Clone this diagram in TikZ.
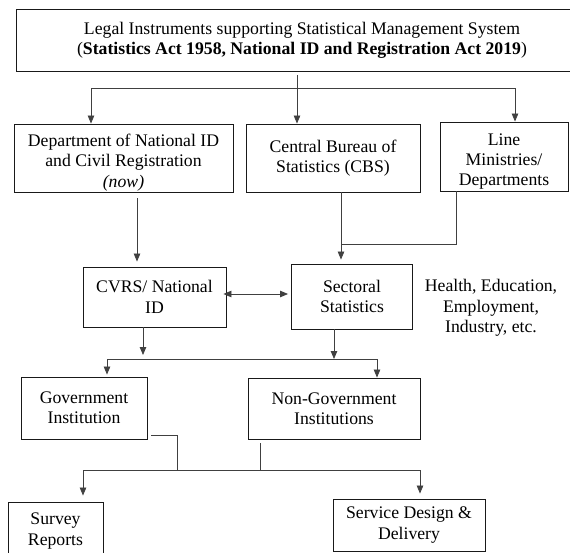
\documentclass[tikz,border=0pt]{standalone}
\usepackage{fontspec}
\setmainfont{Liberation Serif}
\usetikzlibrary{arrows.meta,positioning,calc}

\begin{document}
\begin{tikzpicture}[x=1pt,y=-1pt,
  box/.style={draw=black!90,line width=0.9pt,align=center,inner sep=0pt},
  low/.style={text height=62pt},
  link/.style={draw=black!75,line width=0.8pt},
  arr/.style={link,-{Triangle[length=8pt,width=6.5pt]}},
  arrs/.style={link,{Triangle[length=8pt,width=6.5pt]}-{Triangle[length=8pt,width=6.5pt]}},
  font=\fontsize{17.7}{20.3}\selectfont]
\useasboundingbox (0,0) rectangle (570,553);

% Legal instruments
\node[box,minimum width=572pt,minimum height=62pt] (legal) at (302,40)
  {Legal Instruments supporting Statistical Management System\\
   (\textbf{Statistics Act 1958, National ID and Registration Act 2019})};

% Agencies
\node[box,low,minimum width=219pt,minimum height=68pt] (dept) at (123.5,158)
  {Department of National ID\\and Civil Registration\\\textit{(now)}};
\node[box,minimum width=174pt,minimum height=68pt] (cbs) at (333,158)
  {Central Bureau of\\Statistics (CBS)};
\node[box,low,minimum width=128pt,minimum height=69pt] (line) at (504,156.5)
  {Line\\Ministries/\\Departments};

% Statistics
\node[box,minimum width=143pt,minimum height=60pt] (cvrs) at (154.5,297)
  {CVRS/ National\\ID};
\node[box,minimum width=121pt,minimum height=65pt] (sect) at (352,296.5)
  {Sectoral\\Statistics};
\node[align=center,inner sep=0pt] (health) at (491,308)
  {Health, Education,\\Employment,\\Industry, etc.};

% Institutions
\node[box,minimum width=126pt,minimum height=62pt] (gov) at (84,408)
  {Government\\Institution};
\node[box,minimum width=172pt,minimum height=61pt] (nongov) at (334,408.5)
  {Non-Government\\Institutions};

% Outputs
\node[box,minimum width=95pt,minimum height=58pt] (survey) at (55.5,531)
  {Survey\\Reports};
\node[box,minimum width=152pt,minimum height=52pt] (service) at (409,525)
  {Service Design \&\\Delivery};

% Junctions
\coordinate (ta) at (297,88);
\coordinate (tl) at (91,88);
\coordinate (tr) at (515,88);
\coordinate (ma) at (341,244);
\coordinate (bl) at (107,359);
\coordinate (br) at (377,359);
\coordinate (cg) at (177,470);
\coordinate (cl) at (83,470);
\coordinate (cr) at (420,470);

% Top split
\draw[arr] ([yshift=-4pt]legal.south -| ta) -- (cbs.north -| ta);
\draw[arrs] (dept.north -| tl) |- (tr) -- (line.north -| tr);

% Into statistics
\draw[arr] ([xshift=13.5pt,yshift=-6pt]dept.south) -- ([xshift=13.5pt,yshift=5pt]dept.south |- cvrs.north);
\draw[arr] (cbs.south -| ma) -- ([yshift=4pt]sect.north -| ma);
\draw[link] ([xshift=-48pt]line.south) |- (ma);
\draw[arrs] ([xshift=-3pt,yshift=3pt]cvrs.east) -- ([xshift=-3pt,yshift=3pt]cvrs.east -| sect.west);

% Into institutions
\draw[arr] ([xshift=-11.5pt]cvrs.south) -- ([xshift=-11.5pt,yshift=4pt]cvrs.south |- bl);
\draw[arr] ([xshift=-18pt]sect.south) -- ([xshift=-18pt]sect.south |- br);
\draw[arrs] ([yshift=2pt]gov.north -| bl) |- (br) -- (nongov.north -| br);

% Into outputs
\draw[link] ([xshift=4pt,yshift=4pt]gov.south east) -| (cg);
\draw[link] ([xshift=-74pt,yshift=-4pt]nongov.south) -- ([xshift=-74pt]nongov.south |- cl);
\draw[arrs] ([yshift=6pt]survey.north -| cl) |- (cr) -- ([yshift=5pt]service.north -| cr);

\end{tikzpicture}
\end{document}
